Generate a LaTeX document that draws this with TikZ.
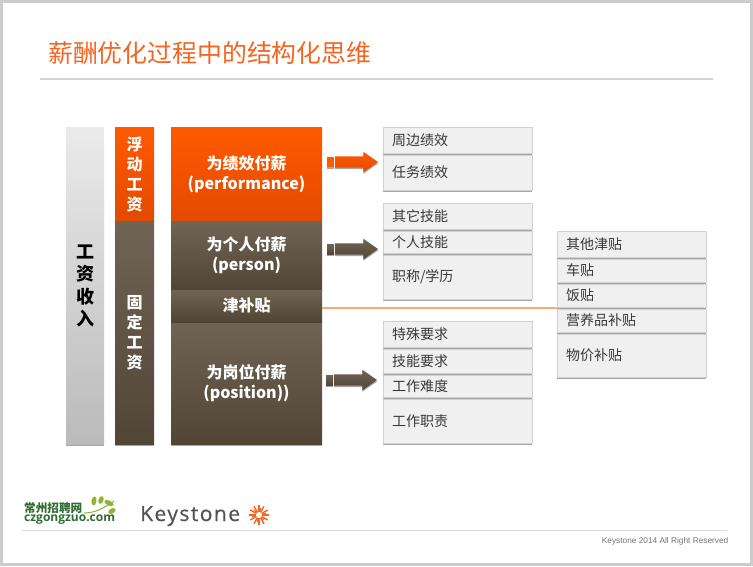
\documentclass[tikz,border=0pt]{standalone}
\usepackage{fontspec}
\setmainfont{Noto Sans CJK SC}
\newfontfamily\footfont{Liberation Sans}
\newfontfamily\logofont{Open Sans}
\newfontfamily\brandfont[LetterSpace=7,FakeBold=0.4]{Open Sans}
\usetikzlibrary{positioning,shadows,shapes.arrows,calc}
\definecolor{hotorange}{HTML}{FF5A00}
\definecolor{deeporange}{HTML}{E34A00}
\definecolor{toptaupe}{HTML}{706454}
\definecolor{lowtaupe}{HTML}{514636}
\definecolor{titleorange}{HTML}{F26522}
\definecolor{peach}{HTML}{F7A873}
\definecolor{leafgreen}{HTML}{8DB42C}
\definecolor{logogreen}{HTML}{2F6B33}
\tikzset{
  softshadow/.style={drop shadow={shadow xshift=0pt,shadow yshift=-1.5pt,fill=black,opacity=.35}},
  orangefill/.style={top color=hotorange,bottom color=deeporange},
  taupefill/.style={top color=toptaupe,bottom color=lowtaupe},
  bar/.style={rectangle,inner sep=0pt,outer sep=0pt,softshadow,align=center},
  tallbar/.style={bar,minimum width=39pt,text=white,font=\fontsize{16}{20}\selectfont\bfseries},
  paybox/.style={bar,minimum width=151pt,text=white,font=\fontsize{16}{20}\selectfont\bfseries},
  itembox/.style={rectangle,draw=black!18,fill=black!6,outer sep=0pt,inner ysep=0pt,inner xsep=9pt,
    minimum height=#1,text width=131pt,align=left,text=black!78,
    font=\fontsize{14}{16}\selectfont,softshadow},
  blockarrow/.style={single arrow,inner xsep=0pt,inner ysep=5.5pt,outer sep=0pt,minimum height=43pt,
    single arrow head extend=4.5pt,single arrow head indent=0pt,single arrow tip angle=70,anchor=west,softshadow},
  arrowstub/.style={rectangle,inner sep=0pt,outer sep=0pt,minimum width=7pt,minimum height=10pt,anchor=west,softshadow},
  leaf/.style={fill=leafgreen,draw=none},
}
\begin{document}
\begin{tikzpicture}[x=1pt,y=-1pt]
  \useasboundingbox (0,0) rectangle (753,566);
  \fill [black!20] (0,0) rectangle (753,566);
  \fill [white] (3,3) rectangle (750,563);

  \node (title) [anchor=west,inner sep=0pt,text=titleorange,font=\fontsize{24.85}{28}\selectfont] at (48,53) {薪酬优化过程中的结构化思维};
  \coordinate (titlerulea) at (40,79);
  \coordinate (titleruleb) at (713,79);
  \draw [black!18,line width=1.5pt] (titlerulea) -- (titleruleb);

  % left columns
  \node (income) [bar,anchor=north west,minimum width=38pt,minimum height=317.5pt,top color=black!8,bottom color=black!27,
    font=\fontsize{18}{22.5}\selectfont\bfseries] at (66,127) {工\\资\\收\\入};
  \node (float) [tallbar,orangefill,anchor=north west,minimum height=94pt] at (115,127) {浮\\动\\工\\资};
  \node (fixed) [tallbar,taupefill,minimum height=223.5pt,below=0pt of float] {固\\定\\工\\资};

  % pay boxes
  \node (perf)     [paybox,orangefill,anchor=north west,minimum height=94pt] at (171,127) {为绩效付薪\\(performance)};
  \node (person)   [paybox,taupefill,minimum height=69pt,below=0pt of perf] {为个人付薪\\(person)};
  \node (position) [paybox,taupefill,minimum height=123.5pt,below=31pt of person] {为岗位付薪\\(position))};
  \node (allow)    [paybox,taupefill,minimum height=31pt,below=0pt of person] {津补贴};

  % performance items
  \node (peri)  [itembox=26pt,anchor=north west] at (383,127) {周边绩效};
  \node (task)  [itembox=35pt,below=2pt of peri] {任务绩效};

  % person items
  \node (other) [itembox=26pt,anchor=north west] at (383,203) {其它技能};
  \node (skill) [itembox=22pt,below=2pt of other] {个人技能};
  \node (title2) [itembox=44pt,below=2pt of skill] {职称/学历};

  % position items
  \node (spec)  [itembox=26pt,anchor=north west] at (383,321) {特殊要求};
  \node (need)  [itembox=24pt,below=2pt of spec] {技能要求};
  \node (hard)  [itembox=22pt,below=2pt of need] {工作难度};
  \node (duty)  [itembox=44pt,below=2pt of hard] {工作职责};

  % allowance items
  \node (misc)  [itembox=26pt,anchor=north west] at (557,231) {其他津贴};
  \node (car)   [itembox=23pt,below=2pt of misc] {车贴};
  \node (meal)  [itembox=23pt,below=2pt of car] {饭贴};
  \node (food)  [itembox=23pt,below=2pt of meal] {营养品补贴};
  \node (price) [itembox=43pt,below=2pt of food] {物价补贴};

  \draw [peach,line width=1.4pt] ([yshift=-2.5pt]allow.east) -- ([yshift=-2.5pt]allow.east -| food.west);

  % block arrows
  \node (stuba) [arrowstub,fill=hotorange] at (327,162) {};
  \node (arra)  [blockarrow,orangefill] at (335,162) {};
  \node (stubb) [arrowstub,taupefill] at (327,249) {};
  \node (arrb)  [blockarrow,taupefill] at (335,249) {};
  \node (stubc) [arrowstub,taupefill] at (326,380) {};
  \node (arrc)  [blockarrow,taupefill] at (334,380) {};

  % logos
  \node (czname) [anchor=base west,inner sep=0pt,text=logogreen,font=\fontsize{11.6}{12}\selectfont\bfseries] at (24,512) {常州招聘网};
  \node (czurl)  [anchor=base west,inner sep=0pt,text=logogreen,font=\logofont\fontsize{12}{12}\selectfont\bfseries] at (24,521.5) {czgongzuo.com};
  \draw [leafgreen,line width=1pt] (84,513) .. controls (95,513) and (104,508) .. (114,501);
  \fill [leaf,rotate around={80:(94,501)}] (94,501) ellipse (4.5pt and 2.5pt);
  \fill [leaf,rotate around={70:(101,500)}] (101,500) ellipse (4pt and 2.5pt);
  \fill [leaf,rotate around={-25:(109,503)}] (109,503) ellipse (5pt and 2.5pt);
  \fill [leaf,rotate around={30:(112,511)}] (112,511) ellipse (4pt and 2.5pt);
  \node (keystone) [anchor=base west,inner sep=0pt,text=black!68,font=\brandfont\fontsize{21}{24}\selectfont] at (140,521) {Keystone};
  \coordinate (burst) at (259,515);
  \foreach \a in {0,30,...,330}
    \draw [titleorange,line width=1.4pt] ($(burst)+(\a:3pt)$) -- ($(burst)+(\a:10pt)$);
  \foreach \a in {15,75,...,315}
    \draw [titleorange,line width=1pt] ($(burst)+(\a:3pt)$) -- ($(burst)+(\a:7pt)$);

  % footer
  \coordinate (footrulea) at (22,530);
  \coordinate (footruleb) at (727,530);
  \draw [black!15,line width=.8pt] (footrulea) -- (footruleb);
  \node (foot) [anchor=east,inner sep=0pt,text=black!55,font=\footfont\fontsize{8.3}{10}\selectfont] at (728.5,541) {Keystone 2014 All Right Reserved};
\end{tikzpicture}
\end{document}
